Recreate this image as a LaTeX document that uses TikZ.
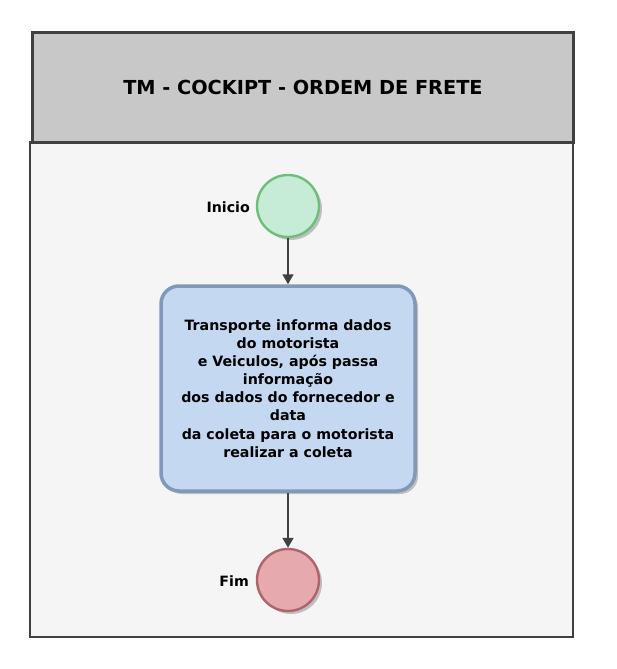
\documentclass[tikz,border=0pt]{standalone}
\usepackage{fontspec}
\setmainfont{DejaVu Sans}
\usetikzlibrary{arrows.meta,shadows}
\definecolor{framec}{HTML}{404040}
\definecolor{headfill}{HTML}{C8C8C8}
\definecolor{bodyfill}{HTML}{F5F5F5}
\definecolor{startfill}{HTML}{C6EBD6}
\definecolor{startline}{HTML}{6DBE79}
\definecolor{endfill}{HTML}{E6A9AE}
\definecolor{endline}{HTML}{B0636A}
\definecolor{taskfill}{HTML}{C4D8F2}
\definecolor{taskline}{HTML}{8298B8}
\definecolor{arrowc}{HTML}{404040}
\tikzset{
  x=1pt, y=-1pt,
  evt/.style={circle, minimum size=62pt, inner sep=0pt, line width=2.4pt,
    drop shadow={shadow xshift=3pt, shadow yshift=-3pt, fill=black!25, opacity=1}},
  taskbox/.style={rounded corners=18pt, minimum width=254pt, minimum height=205pt,
    inner sep=0pt, draw=taskline, line width=3.5pt, fill=taskfill, align=center,
    font=\bfseries\fontsize{14.2}{18.1}\selectfont,
    drop shadow={shadow xshift=3pt, shadow yshift=-3pt, fill=black!25, opacity=1}},
  lbl/.style={font=\bfseries\fontsize{14.2}{16}\selectfont, anchor=east, inner sep=0pt},
  flow/.style={draw=arrowc, line width=1.6pt, -{Triangle[length=10pt,width=11pt]}}
}
\begin{document}
\begin{tikzpicture}
\useasboundingbox (0,0) rectangle (616,669);
\fill[white] (0,0) rectangle (616,669);
% body
\fill[bodyfill] (30,142) rectangle (573,637);
% header
\node[draw=framec, line width=3pt, fill=headfill, minimum width=541pt, minimum height=110pt,
  inner sep=0pt, anchor=north west, font=\bfseries\fontsize{19.3}{22}\selectfont]
  (head) at (31,31) {TM - COCKIPT - ORDEM DE FRETE};
\draw[framec, line width=1.5pt] (30,142) rectangle (573,637);
% nodes
\node[evt, draw=startline, fill=startfill] (start) at (288,206) {};
\node[lbl] (startl) at (250,207) {Inicio};
\node[taskbox] (task) at (288,388.5) {Transporte informa dados\\do motorista\\e Veiculos, após passa\\informação\\dos dados do fornecedor e\\data\\da coleta para o motorista\\realizar a coleta};
\node[evt, draw=endline, fill=endfill] (end) at (288,580) {};
\node[lbl] (endl) at (249,581) {Fim};
% connectors
\draw[flow] (start.south) -- (task.north);
\draw[flow] (task.south) -- (end.north);
\end{tikzpicture}
\end{document}
